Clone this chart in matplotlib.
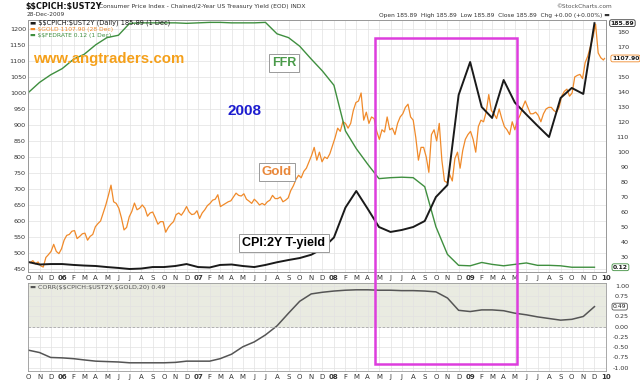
import pandas as pd
import matplotlib
matplotlib.use("Agg")
import matplotlib.pyplot as plt
import matplotlib.dates as mdates
from matplotlib.patches import Rectangle

plt.rcParams["font.family"] = "DejaVu Sans"
plt.rcParams["text.parse_math"] = False

# $GOLD, weekly closes (Fridays, 7-Oct-2005 .. 25-Dec-2009)
gold_2005 = [470, 476, 466, 472, 460, 456, 486, 495, 505, 527, 505, 498, 513]
gold_2006 = [540, 555, 558, 568, 570, 545, 552, 560, 562, 540, 552, 558, 582,
             592, 600, 625, 650, 680, 712, 660, 655, 640, 610, 572, 580, 613,
             630, 656, 635, 640, 650, 640, 615, 625, 628, 610, 590, 598, 598,
             565, 580, 590, 598, 620, 625, 618, 630, 645, 628, 620, 622, 632]
gold_2007 = [608, 625, 635, 648, 655, 665, 668, 682, 645, 650, 655, 660, 663,
             675, 687, 680, 678, 685, 668, 662, 655, 668, 660, 650, 655, 650,
             660, 665, 680, 670, 670, 675, 660, 665, 672, 695, 710, 730, 743,
             735, 755, 765, 785, 805, 830, 790, 815, 785, 800, 795, 810, 835]
gold_2008 = [860, 890, 880, 910, 905, 890, 905, 945, 970, 975, 1000, 915, 940,
             905, 925, 920, 880, 855, 885, 878, 925, 885, 890, 870, 905, 925,
             935, 955, 965, 925, 915, 860, 790, 830, 830, 800, 752, 870, 885,
             850, 905, 790, 725, 720, 745, 725, 795, 815, 765, 820, 855, 870]
gold_2009 = [880, 855, 815, 895, 915, 910, 940, 995, 945, 935, 920, 950, 920,
             895, 885, 870, 910, 885, 915, 930, 955, 975, 955, 935, 935, 940,
             930, 910, 935, 950, 955, 955, 945, 940, 955, 990, 1005, 1012, 990,
             1000, 1050, 1055, 1058, 1045, 1095, 1115, 1145, 1175, 1215, 1125, 1110, 1103]
gold_last_date = "2009-12-28"
gold_last = 1107.90

# monthly series, 1-Oct-2005 .. 1-Dec-2009
cpi_2y = [26.7, 25.0, 25.3,
          25.3, 24.7, 24.3, 24.0, 23.3, 22.7, 22.0, 22.3, 23.3, 23.3, 24.0, 25.3,
          23.3, 23.0, 24.7, 25.0, 24.0, 23.3, 24.7, 26.5, 28.0, 29.3, 31.5, 35.5,
          43.0, 63.0, 74.0, 62.0, 50.0, 46.7, 48.0, 50.0, 54.0, 70.0, 78.0, 138.0,
          160.0, 130.0, 122.7, 148.0, 133.0, 125.0, 117.5, 110.0, 136.0, 142.7, 138.7, 185.89]
fedrate = [3.78, 4.00, 4.16,
           4.29, 4.49, 4.59, 4.79, 4.94, 4.99, 5.24, 5.25, 5.25, 5.25, 5.25, 5.24,
           5.25, 5.26, 5.26, 5.25, 5.25, 5.25, 5.26, 5.02, 4.94, 4.76, 4.49, 4.24,
           3.94, 2.98, 2.61, 2.28, 1.98, 2.00, 2.01, 2.00, 1.81, 0.97, 0.39, 0.16,
           0.15, 0.22, 0.18, 0.15, 0.18, 0.21, 0.16, 0.16, 0.15, 0.12, 0.12, 0.12]
corr20 = [-0.57, -0.63, -0.75,
          -0.76, -0.78, -0.81, -0.84, -0.85, -0.86, -0.88, -0.88, -0.88, -0.88, -0.87, -0.84,
          -0.84, -0.84, -0.78, -0.67, -0.49, -0.37, -0.20, 0.02, 0.33, 0.62, 0.80, 0.84,
          0.87, 0.89, 0.90, 0.90, 0.89, 0.89, 0.88, 0.88, 0.87, 0.85, 0.70, 0.40,
          0.37, 0.41, 0.41, 0.39, 0.33, 0.29, 0.24, 0.20, 0.16, 0.18, 0.25, 0.49]

months = pd.date_range("2005-10-01", "2009-12-01", freq="MS")
gold = gold_2005 + gold_2006 + gold_2007 + gold_2008 + gold_2009 + [gold_last]
gold_dates = list(pd.date_range("2005-10-07", "2009-12-25", freq="W-FRI")) + [pd.Timestamp(gold_last_date)]

x_ticks = pd.date_range("2005-10-01", "2010-01-01", freq="MS")
x_labels = [d.strftime("%y") if d.month == 1 else "JFMAMJJASOND"[d.month - 1] for d in x_ticks]

right_ticks = [30, 40, 50, 60, 70, 80, 90, 100, 110, 120, 130, 140, 150, 170, 180]
corr_ticks = [1, 0.75, 0.25, 0, -0.25, -0.5, -0.75, -1]

# highlighted period
box_start, box_end = "2008-04-20", "2009-05-07"

GOLD_C = "#f08a2a"
FFR_C = "#3f8f3f"
CPI_C = "#1a1a1a"
MAG = "#dd3ddd"
GRID = "#e2e2e2"
TXT = "#333333"

W, H = 640.0, 382.0
fig = plt.figure(figsize=(6.4, 3.82), dpi=100)


def rect(l, t, r, b):
    return [l / W, 1 - b / H, (r - l) / W, (b - t) / H]


def fx(x):
    return x / W


def fy(y):
    return 1 - y / H


ax = fig.add_axes(rect(28, 20, 606, 272))
ax_f = ax.twinx()
ax_r = ax.twinx()
ax2 = fig.add_axes(rect(28, 283, 606, 371))

xlim = (pd.Timestamp("2005-10-01"), pd.Timestamp("2010-01-01"))

ax.plot(gold_dates, gold, color=GOLD_C, lw=0.9)
ax_f.plot(months, fedrate, color=FFR_C, lw=1.0)
ax_r.plot(months, cpi_2y, color=CPI_C, lw=1.4)

ax.set_ylim(440.6, 1228)
ax_r.set_ylim(20, 188)
ax_f.set_ylim(0.02, 5.31)
for a in (ax, ax_f, ax_r, ax2):
    a.set_xlim(xlim)
    for s in a.spines.values():
        s.set_color("#9a9a9a")
        s.set_linewidth(0.6)

ax.set_yticks(range(450, 1201, 50))
ax.tick_params(axis="y", labelsize=4.6, length=0, pad=1.5, colors=TXT)
ax.set_xticks(x_ticks)
ax.set_xticklabels(x_labels)
ax.tick_params(axis="x", labelsize=5, length=0, pad=2, colors=TXT)
ax.grid(True, color=GRID, lw=0.5)
ax.set_axisbelow(True)

ax_f.set_yticks([])
ax_r.set_yticks(right_ticks)
ax_r.tick_params(axis="y", labelsize=4.6, length=0, pad=16.5, colors=TXT)
plt.setp(ax_r.get_yticklabels(), ha="right")

ax2.plot(months, corr20, color="#555555", lw=1.1)
ax2.set_ylim(-1.08, 1.066)
ax2.axhspan(0, 1.066, color="#e9ebe1", zorder=0.2, lw=0)
ax2.axhline(0, color="#a8a8a8", lw=0.6, ls=(0, (3, 2)))
ax2.yaxis.tick_right()
ax2.set_yticks(corr_ticks)
ax2.set_yticklabels(["%.2f" % v for v in corr_ticks])
ax2.tick_params(axis="y", labelsize=4.6, length=0, pad=16.5, colors=TXT)
plt.setp(ax2.get_yticklabels(), ha="right")
ax2.set_yticks([0.5], minor=True)
ax2.grid(True, which="both", color=GRID, lw=0.5)
ax2.tick_params(axis="y", which="minor", length=0)
ax2.set_xticks(x_ticks)
ax2.set_xticklabels(x_labels)
ax2.tick_params(axis="x", labelsize=5, length=0, pad=2, colors=TXT)
ax2.set_axisbelow(True)

for a in (ax, ax2):
    for lbl, d in zip(a.get_xticklabels(), x_ticks):
        if d.month == 1:
            lbl.set_fontweight("bold")

# value flags on the right edge
flag = dict(boxstyle="round,pad=0.15,rounding_size=0.3", fc="white", lw=0.6)
ax_r.text(1.008, cpi_2y[-1], "%.2f" % cpi_2y[-1], transform=ax_r.get_yaxis_transform(),
          fontsize=4.4, fontweight="bold", va="center", ha="left", color=CPI_C,
          bbox=dict(flag, ec="#333333"))
ax.text(1.01, gold_last, "%.2f" % gold_last, transform=ax.get_yaxis_transform(),
        fontsize=4.3, fontweight="bold", va="center", ha="left", color=CPI_C,
        bbox=dict(flag, ec=GOLD_C), zorder=10)
ax_f.text(1.012, fedrate[-1], "%.2f" % fedrate[-1], transform=ax_f.get_yaxis_transform(),
          fontsize=4.4, fontweight="bold", va="center", ha="left", color=CPI_C,
          bbox=dict(flag, ec=FFR_C))
ax2.text(1.012, corr20[-1], "%.2f" % corr20[-1], transform=ax2.get_yaxis_transform(),
         fontsize=4.4, va="center", ha="left", color=CPI_C,
         bbox=dict(flag, ec="#555555"))

# header
fig.text(fx(25), fy(6), "$$CPICH:$UST2Y", fontsize=5.8, fontweight="bold", va="center", color="#111")
fig.text(fx(99), fy(6.5), "Consumer Price Index - Chained/2-Year US Treasury Yield (EOD) INDX",
         fontsize=4.3, va="center", color=TXT)
fig.text(fx(27), fy(15), "28-Dec-2009", fontsize=4.2, va="center", color=TXT)
fig.text(fx(612), fy(6), "\u00a9StockCharts.com", fontsize=4.2, va="center", ha="right", color="#555")
fig.text(fx(610), fy(15),
         "Open 185.89  High 185.89  Low 185.89  Close 185.89  Chg +0.00 (+0.00%) \u25ac",
         fontsize=4.2, va="center", ha="right", color=TXT)

# legends
fig.text(fx(30), fy(23), "\u25ac $$CPICH:$UST2Y (Daily) 185.89 (1 Dec)", fontsize=4.8, va="center", color=CPI_C)
fig.text(fx(30), fy(29), "\u25ac $GOLD 1107.90 (28 Dec)", fontsize=4.3, va="center", color=GOLD_C)
fig.text(fx(30), fy(35), "\u25ac $$FEDRATE 0.12 (1 Dec)", fontsize=4.3, va="center", color=FFR_C)
fig.text(fx(30), fy(288), "\u25ac CORR($$CPICH:$UST2Y,$GOLD,20) 0.49", fontsize=4.6, va="center", color="#555")

# annotations
note = dict(boxstyle="square,pad=0.25", fc="white", ec="#9a9a9a", lw=0.7)
fig.text(fx(33), fy(59), "www.angtraders.com", family="Liberation Sans", fontsize=10.8,
         fontweight="bold", color="#f5a01a", va="center")
fig.text(fx(245), fy(111), "2008", family="Liberation Sans", fontsize=11, fontweight="bold",
         color="#1c1ccf", va="center", ha="center")
fig.text(fx(284), fy(63), "FFR", family="Liberation Sans", fontsize=9, fontweight="bold",
         color="#4a9a4a", va="center", ha="center", bbox=note)
fig.text(fx(277), fy(172), "Gold", family="Liberation Sans", fontsize=9.5, fontweight="bold",
         color="#e8873a", va="center", ha="center", bbox=note)
fig.text(fx(284), fy(243), "CPI:2Y T-yield", family="Liberation Sans", fontsize=9, fontweight="bold",
         color="black", va="center", ha="center", bbox=note)

# magenta box spanning both panels
inv = fig.transFigure.inverted()
x0, y1 = inv.transform(ax.transData.transform((mdates.date2num(pd.Timestamp(box_start)), 1172)))
x1, y0 = inv.transform(ax2.transData.transform((mdates.date2num(pd.Timestamp(box_end)), -0.91)))
fig.add_artist(Rectangle((x0, y0), x1 - x0, y1 - y0, transform=fig.transFigure,
                         fill=False, ec=MAG, lw=1.8, zorder=5))

fig.savefig("out.png", dpi=100, facecolor="white")
